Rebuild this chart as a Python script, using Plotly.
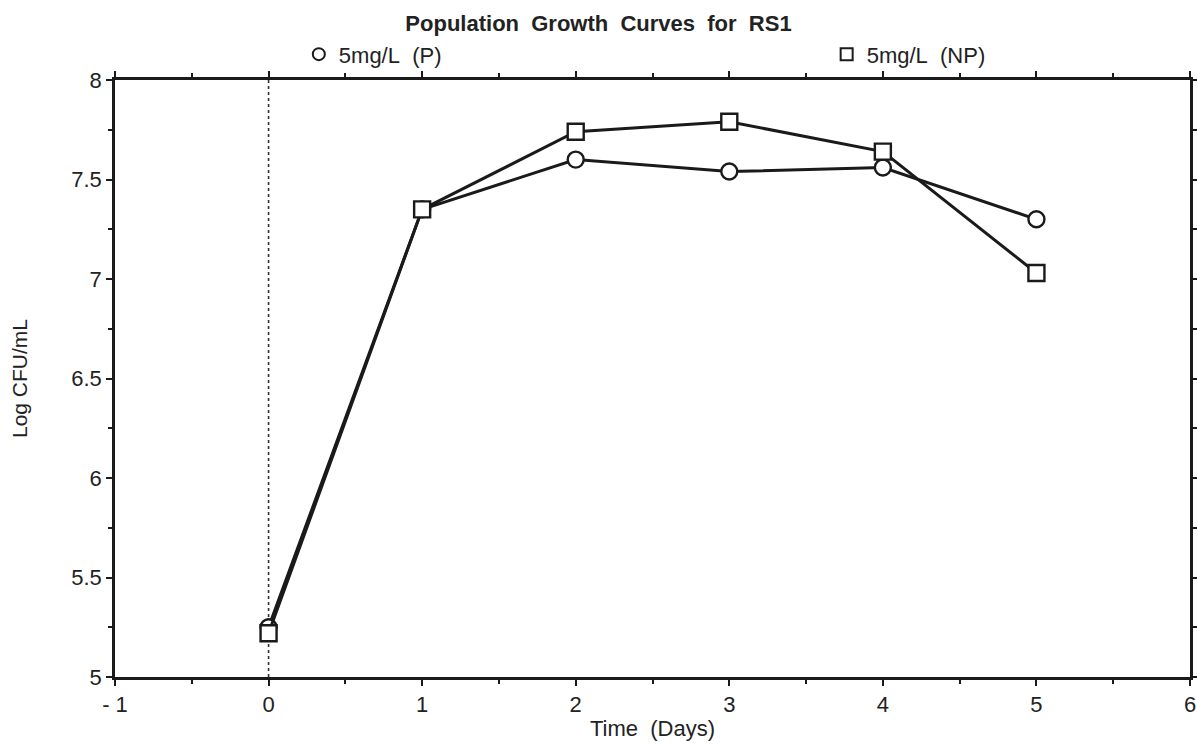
import plotly.graph_objects as go

# Sampling days and log counts for the two treatments
days = [0, 1, 2, 3, 4, 5]
log_p = [5.25, 7.35, 7.60, 7.54, 7.56, 7.30]
log_np = [5.22, 7.35, 7.74, 7.79, 7.64, 7.03]

x_ticks = [-1, 0, 1, 2, 3, 4, 5, 6]
x_tick_text = ["- 1", "0", "1", "2", "3", "4", "5", "6"]
y_ticks = [5, 5.5, 6, 6.5, 7, 7.5, 8]
y_tick_text = ["5", "5.5", "6", "6.5", "7", "7.5", "8"]

NB = "\u00a0"
FONT = "Liberation Sans, Arial, Helvetica, sans-serif"
INK = "#1a1a1a"
TXT = "#222222"

fig = go.Figure()

# Data series (lines with open markers)
fig.add_trace(go.Scatter(
    x=days, y=log_p, mode="lines+markers", showlegend=False,
    line=dict(color=INK, width=3),
    marker=dict(symbol="circle", size=16, color="white",
                line=dict(color=INK, width=2.4)),
))
fig.add_trace(go.Scatter(
    x=days, y=log_np, mode="lines+markers", showlegend=False,
    line=dict(color=INK, width=3),
    marker=dict(symbol="square", size=16, color="white",
                line=dict(color=INK, width=2.4)),
))

# Legend entries (marker only), each in its own legend box
fig.add_trace(go.Scatter(
    x=[None], y=[None], mode="markers", name="5mg/L" + NB * 2 + "(P)",
    legend="legend",
    marker=dict(symbol="circle", size=15, color="white",
                line=dict(color=INK, width=2.2)),
))
fig.add_trace(go.Scatter(
    x=[None], y=[None], mode="markers", name="5mg/L" + NB * 2 + "(NP)",
    legend="legend2",
    marker=dict(symbol="square", size=15, color="white",
                line=dict(color=INK, width=2.2)),
))

# Dotted reference line at day 0
fig.add_shape(type="line", x0=0, x1=0, y0=5, y1=8, xref="x", yref="y",
              line=dict(color="#333333", width=1.6, dash="dot"), layer="below")

axis_common = dict(
    showgrid=False, zeroline=False, showline=True, linecolor=INK,
    linewidth=2.5, mirror="allticks", ticks="outside", ticklen=6,
    tickwidth=2, tickcolor=INK, automargin=False,
    tickfont=dict(family=FONT, size=22, color=TXT),
)

fig.update_xaxes(
    range=[-1, 6], tickvals=x_ticks, ticktext=x_tick_text,
    minor=dict(dtick=0.5, tick0=-1, ticks="outside", ticklen=4,
               tickwidth=2, tickcolor=INK),
    title=dict(text="Time" + NB * 2 + "(Days)", standoff=5,
               font=dict(family=FONT, size=22, color=TXT)),
    **axis_common,
)
fig.update_yaxes(
    range=[5, 8], tickvals=y_ticks, ticktext=y_tick_text,
    minor=dict(dtick=0.25, tick0=5, ticks="outside", ticklen=4,
               tickwidth=2, tickcolor=INK),
    title=dict(text="Log CFU/mL", standoff=38,
               font=dict(family=FONT, size=21, color=TXT)),
    **axis_common,
)

legend_common = dict(
    orientation="h", yanchor="middle", y=1.043, xanchor="left",
    font=dict(family=FONT, size=22, color=TXT),
    bgcolor="rgba(0,0,0,0)", itemsizing="constant", itemwidth=30,
)

fig.update_layout(
    width=1197, height=744,
    margin=dict(l=115, r=7, t=80, b=67, autoexpand=False),
    paper_bgcolor="white", plot_bgcolor="white",
    title=dict(
        text="<b>Population" + NB * 2 + "Growth" + NB * 2 + "Curves" + NB * 2
             + "for" + NB * 2 + "RS1</b>",
        x=0.5, xanchor="center", y=0.969, yanchor="middle",
        font=dict(family=FONT, size=22, color=TXT),
    ),
    legend=dict(x=0.171, **legend_common),
    legend2=dict(x=0.662, **legend_common),
)

fig.write_html("out.html")
